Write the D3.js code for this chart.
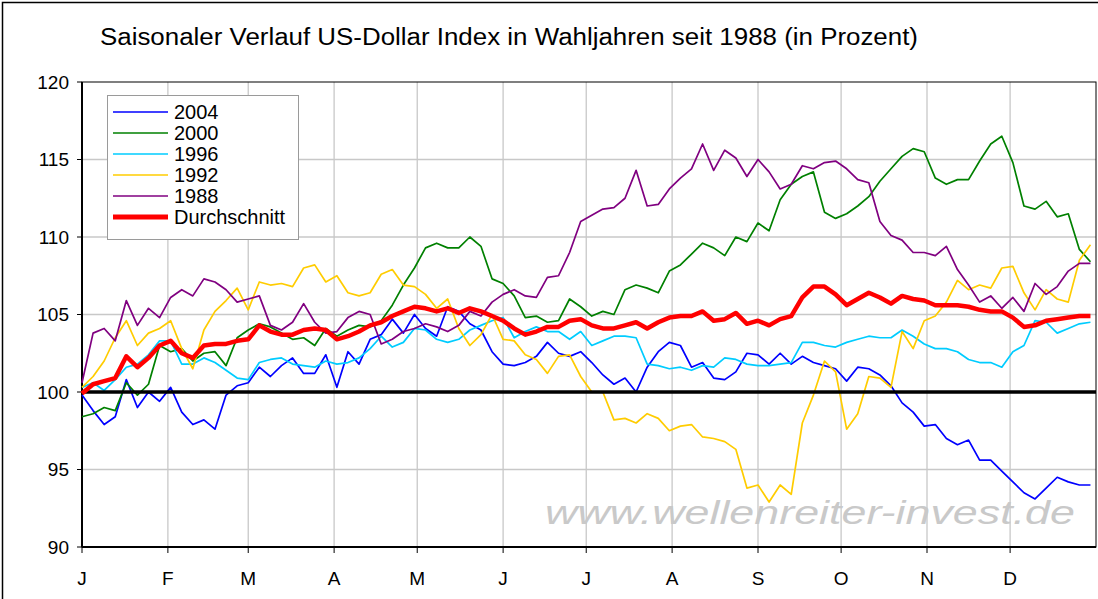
<!DOCTYPE html>
<html>
<head>
<meta charset="utf-8">
<script src="https://cdn.jsdelivr.net/npm/d3@7"></script>
<style>
  body { margin: 0; background: #fff; }
  svg { display: block; font-family: Arial, "Liberation Sans", sans-serif; }
</style>
</head>
<body>
<div id="chart"></div>
<script>
// day of year (2004) for every reading
const days = d3.range(0, 365, 4);

const y2004 = [
  99.8, 98.8, 97.9, 98.4, 100.8, 99.0, 100.0, 99.4, 100.3, 98.7,
  97.9, 98.2, 97.6, 99.8, 100.4, 100.6, 101.6, 101.0, 101.7, 102.2,
  101.2, 101.2, 102.4, 100.3, 102.6, 101.8, 103.4, 103.7, 104.7, 103.8,
  105.0, 104.1, 103.6, 105.5, 105.2, 104.4, 104.0, 102.6, 101.8, 101.7,
  101.9, 102.3, 103.2, 102.5, 102.3, 102.6, 101.9, 101.1, 100.5, 100.9,
  100.0, 101.6, 102.6, 103.2, 103.0, 101.6, 101.9, 100.9, 100.8, 101.3,
  102.5, 102.4, 101.8, 102.5, 101.8, 102.3, 101.9, 101.7, 101.5, 100.7,
  101.6, 101.5, 101.1, 100.4, 99.3, 98.7, 97.8, 97.9, 97.0, 96.6,
  96.9, 95.6, 95.6, 94.9, 94.2, 93.5, 93.1, 93.8, 94.5, 94.2,
  94.0, 94.0
];
const y2000 = [
  98.4, 98.6, 99.0, 98.8, 100.6, 99.8, 100.5, 103.0, 102.6, 102.8,
  102.0, 102.5, 102.6, 101.7, 103.5, 104.0, 104.4, 104.2, 103.8, 103.4,
  103.5, 103.0, 104.1, 103.6, 104.0, 104.3, 104.2, 104.6, 105.6, 106.9,
  108.0, 109.3, 109.6, 109.3, 109.3, 110.0, 109.4, 107.3, 107.0, 106.2,
  104.8, 104.9, 104.5, 104.6, 106.0, 105.5, 104.9, 105.2, 105.0, 106.6,
  106.9, 106.7, 106.4, 107.8, 108.2, 108.9, 109.6, 109.3, 108.8, 110.0,
  109.7, 110.9, 110.4, 112.4, 113.4, 113.9, 114.2, 111.6, 111.2, 111.5,
  112.0, 112.6, 113.6, 114.4, 115.2, 115.7, 115.5, 113.8, 113.4, 113.7,
  113.7, 114.9, 116.0, 116.5, 114.8, 112.0, 111.8, 112.3, 111.3, 111.5,
  109.2, 108.4
];
const y1996 = [
  100.3, 100.6, 100.1, 100.8, 101.6, 101.8, 102.4, 103.3, 103.3, 101.8,
  101.8, 102.2, 101.9, 101.4, 100.9, 100.8, 101.9, 102.1, 102.2, 101.8,
  101.7, 101.6, 102.0, 101.8, 101.9, 102.2, 102.8, 103.6, 102.9, 103.2,
  104.1, 104.0, 103.4, 103.2, 103.4, 104.0, 104.3, 104.6, 104.8, 103.5,
  103.9, 104.2, 103.9, 103.9, 103.4, 103.9, 103.0, 103.3, 103.6, 103.6,
  103.5, 101.8, 101.7, 101.5, 101.6, 101.4, 101.7, 101.6, 102.2, 102.1,
  101.8, 101.7, 101.7, 101.8, 101.9, 103.2, 103.2, 103.0, 102.9, 103.2,
  103.4, 103.6, 103.5, 103.5, 104.0, 103.6, 103.1, 102.8, 102.8, 102.6,
  102.1, 101.9, 101.9, 101.6, 102.6, 103.0, 104.6, 104.5, 103.8, 104.1,
  104.4, 104.5
];
const y1992 = [
  100.3, 101.0, 102.0, 103.5, 104.6, 103.0, 103.8, 104.1, 104.6, 102.8,
  101.5, 104.0, 105.2, 105.9, 106.7, 105.3, 107.1, 106.9, 107.0, 106.8,
  108.0, 108.2, 107.1, 107.5, 106.4, 106.2, 106.4, 107.6, 107.9, 106.9,
  106.8, 106.3, 105.4, 106.0, 104.1, 103.0, 103.7, 105.0, 103.4, 103.3,
  102.4, 102.1, 101.2, 102.3, 102.4, 101.0, 100.0, 100.0, 98.2, 98.3,
  98.0, 98.6, 98.3, 97.5, 97.8, 97.9, 97.1, 97.0, 96.8, 96.3,
  93.8, 94.0, 92.9, 94.0, 93.4, 98.0, 99.8, 102.0, 101.3, 97.6,
  98.6, 101.0, 100.9, 100.3, 103.9, 102.8, 104.6, 104.9, 105.8, 107.2,
  106.6, 106.9, 106.7, 108.0, 108.1, 106.4, 105.3, 106.6, 106.0, 105.8,
  108.5, 109.5
];
const y1988 = [
  100.6, 103.8, 104.1, 103.3, 105.9, 104.3, 105.4, 104.8, 106.1, 106.6,
  106.2, 107.3, 107.1, 106.6, 105.8, 106.0, 106.2, 104.3, 104.0, 104.5,
  105.7, 104.5, 103.8, 103.9, 104.8, 105.2, 105.0, 103.1, 103.4, 103.9,
  104.1, 104.4, 104.2, 103.9, 104.3, 105.2, 104.9, 105.8, 106.3, 106.6,
  106.2, 106.1, 107.4, 107.5, 109.0, 111.0, 111.4, 111.8, 111.9, 112.5,
  114.3, 112.0, 112.1, 113.1, 113.8, 114.4, 116.0, 114.3, 115.6, 115.1,
  113.9, 115.0, 114.2, 113.1, 113.4, 114.6, 114.4, 114.8, 114.9, 114.4,
  113.7, 113.5, 111.0, 110.1, 109.8, 109.0, 109.0, 108.8, 109.4, 107.9,
  106.9, 105.8, 106.2, 105.4, 106.1, 105.2, 107.0, 106.3, 106.8, 107.8,
  108.3, 108.3
];
const avg = [
  99.9, 100.5, 100.7, 100.9, 102.3, 101.6, 102.2, 103.0, 103.3, 102.5,
  102.2, 103.0, 103.1, 103.1, 103.3, 103.4, 104.3, 103.9, 103.7, 103.7,
  104.0, 104.1, 104.0, 103.4, 103.6, 103.9, 104.3, 104.5, 104.9, 105.2,
  105.5, 105.4, 105.2, 105.4, 105.1, 105.4, 105.2, 104.9, 104.6, 104.1,
  103.7, 103.9, 104.2, 104.2, 104.6, 104.7, 104.3, 104.1, 104.1, 104.3,
  104.5, 104.1, 104.5, 104.8, 104.9, 104.9, 105.2, 104.6, 104.7, 105.1,
  104.4, 104.6, 104.3, 104.7, 104.9, 106.1, 106.8, 106.8, 106.3, 105.6,
  106.0, 106.4, 106.1, 105.7, 106.2, 106.0, 105.9, 105.6, 105.6, 105.6,
  105.5, 105.3, 105.2, 105.2, 104.8, 104.2, 104.3, 104.6, 104.7, 104.8,
  104.9, 104.9
];

const seriesNames = ["2004", "2000", "1996", "1992", "1988", "Durchschnitt"];
const seriesValues = [y2004, y2000, y1996, y1992, y1988, avg];
const seriesColors = ["#0000ff", "#008000", "#00ccff", "#ffcc00", "#800080", "#ff0000"];
const monthLabels = ["J", "F", "M", "A", "M", "J", "J", "A", "S", "O", "N", "D"];
const yTicks = [90, 95, 100, 105, 110, 115, 120];

const W = 1098, H = 599;
const plotL = 82, plotR = 1096, plotT = 82, plotB = 547;

const svg = d3.select("#chart").append("svg")
  .attr("width", W).attr("height", H);

svg.append("rect").attr("width", W).attr("height", H).attr("fill", "#fff");
// outer chart frame
svg.append("rect")
  .attr("x", 2.5).attr("y", 2.5).attr("width", W + 20).attr("height", H + 20)
  .attr("fill", "none").attr("stroke", "#000").attr("stroke-width", 1.5);

const x = d3.scaleTime()
  .domain([new Date(2004, 0, 1), new Date(2005, 0, 1)])
  .range([plotL, plotR]);
const y = d3.scaleLinear().domain([90, 120]).range([plotB, plotT]);

const months = d3.timeMonth.range(new Date(2004, 0, 1), new Date(2005, 0, 1));

// grid
svg.append("g").selectAll("line")
  .data(yTicks.filter(v => v !== 90 && v !== 100 && v !== 120))
  .enter().append("line")
  .attr("x1", plotL).attr("x2", plotR)
  .attr("y1", d => y(d)).attr("y2", d => y(d))
  .attr("stroke", "#c8c8c8").attr("stroke-width", 1.3);
svg.append("g").selectAll("line")
  .data(months.slice(1))
  .enter().append("line")
  .attr("x1", d => x(d)).attr("x2", d => x(d))
  .attr("y1", plotT).attr("y2", plotB)
  .attr("stroke", "#c8c8c8").attr("stroke-width", 1.3);

// watermark
svg.append("text")
  .attr("x", 545).attr("y", 524)
  .attr("textLength", 530).attr("lengthAdjust", "spacingAndGlyphs")
  .attr("font-size", 34).attr("font-style", "italic")
  .attr("fill", "#c9c9c9")
  .text("www.wellenreiter-invest.de");

// plot frame
svg.append("rect")
  .attr("x", plotL).attr("y", plotT)
  .attr("width", plotR - plotL).attr("height", plotB - plotT)
  .attr("fill", "none").attr("stroke", "#000").attr("stroke-width", 1);
svg.append("line")
  .attr("x1", plotL).attr("x2", plotL).attr("y1", plotT).attr("y2", plotB)
  .attr("stroke", "#000").attr("stroke-width", 2);
svg.append("line")
  .attr("x1", plotL).attr("x2", plotR).attr("y1", plotB).attr("y2", plotB)
  .attr("stroke", "#000").attr("stroke-width", 2);

// y axis ticks + labels
const yAx = svg.append("g");
yAx.selectAll("line").data(yTicks).enter().append("line")
  .attr("x1", plotL - 5).attr("x2", plotL)
  .attr("y1", d => y(d)).attr("y2", d => y(d))
  .attr("stroke", "#000");
yAx.selectAll("text").data(yTicks).enter().append("text")
  .attr("x", 69).attr("y", d => y(d)).attr("dy", "0.35em")
  .attr("text-anchor", "end").attr("font-size", 19)
  .text(d => d);

// x axis ticks + labels
const xAx = svg.append("g");
xAx.selectAll("line").data(months).enter().append("line")
  .attr("x1", d => x(d)).attr("x2", d => x(d))
  .attr("y1", plotB).attr("y2", plotB + 6)
  .attr("stroke", "#000");
xAx.selectAll("text").data(months).enter().append("text")
  .attr("x", d => x(d)).attr("y", 585)
  .attr("text-anchor", "middle").attr("font-size", 19)
  .text((d, i) => monthLabels[i]);

const line = d3.line()
  .x((d, i) => x(new Date(2004, 0, 1 + days[i])))
  .y(d => y(d));

// yearly series
svg.append("g").selectAll("path")
  .data(seriesValues.slice(0, 5))
  .enter().append("path")
  .attr("d", line)
  .attr("fill", "none")
  .attr("stroke", (d, i) => seriesColors[i])
  .attr("stroke-width", 1.7)
  .attr("stroke-linejoin", "round");

// 100 line
svg.append("line")
  .attr("x1", plotL).attr("x2", plotR).attr("y1", y(100)).attr("y2", y(100))
  .attr("stroke", "#000").attr("stroke-width", 3.5);

// average
svg.append("path")
  .attr("d", line(avg))
  .attr("fill", "none")
  .attr("stroke", seriesColors[5])
  .attr("stroke-width", 4.5)
  .attr("stroke-linejoin", "round");

// title
svg.append("text")
  .attr("x", 100).attr("y", 45)
  .attr("font-size", 23)
  .attr("textLength", 818).attr("lengthAdjust", "spacingAndGlyphs")
  .text("Saisonaler Verlauf US-Dollar Index in Wahljahren seit 1988 (in Prozent)");

// legend
const lg = svg.append("g");
lg.append("rect")
  .attr("x", 107.5).attr("y", 95.5).attr("width", 191).attr("height", 144)
  .attr("fill", "#fff").attr("stroke", "#9a9a9a");
const rows = lg.selectAll("g.row").data(seriesNames).enter().append("g")
  .attr("class", "row")
  .attr("transform", (d, i) => `translate(0,${112 + i * 21})`);
rows.append("line")
  .attr("x1", 113).attr("x2", 168)
  .attr("stroke", (d, i) => seriesColors[i])
  .attr("stroke-width", (d, i) => (i === 5 ? 5 : 1.7));
rows.append("text")
  .attr("x", 174).attr("dy", "0.35em")
  .attr("font-size", 20)
  .text(d => d);
</script>
</body>
</html>
